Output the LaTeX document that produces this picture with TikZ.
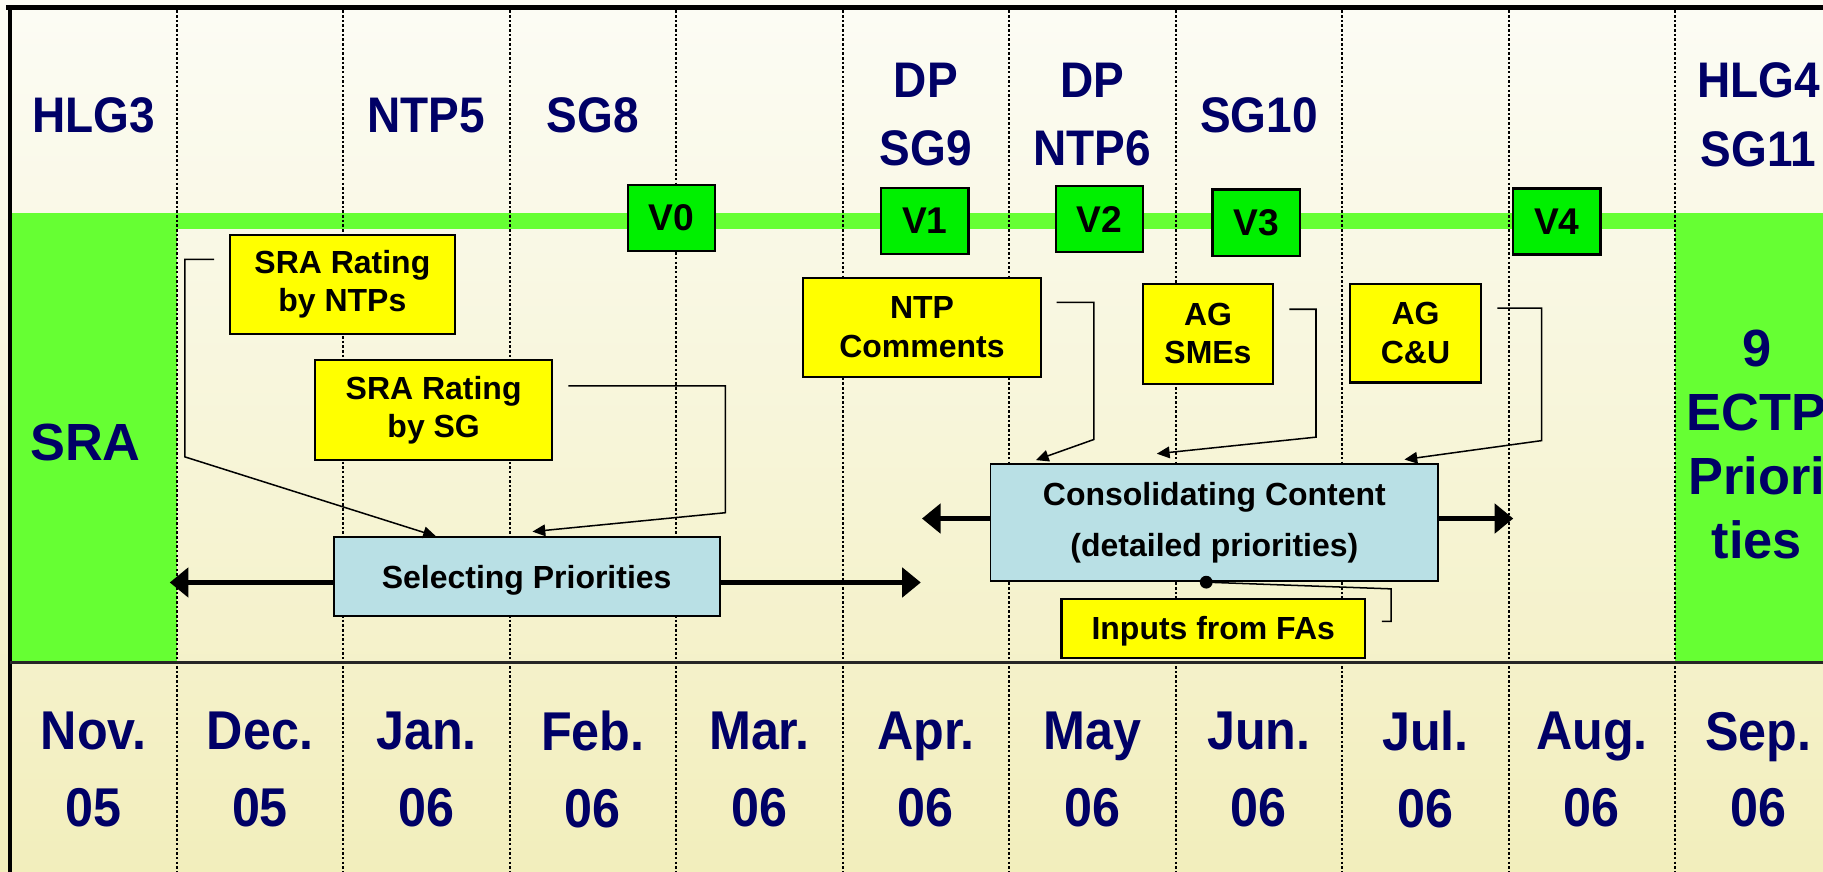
\documentclass[tikz,border=0pt]{standalone}
\usepackage{fontspec}
\setmainfont{Liberation Sans}
\newfontfamily\narrowsans{Liberation Sans}[FakeStretch=0.92]
\usetikzlibrary{arrows.meta}
\definecolor{labelNavy}{HTML}{000066}
\definecolor{bandGreen}{HTML}{66FF33}
\definecolor{versionGreen}{HTML}{00F000}
\definecolor{noteYellow}{HTML}{FFFF00}
\definecolor{taskBlue}{HTML}{B9E0E5}
\definecolor{bgTop}{HTML}{FCFCF5}
\definecolor{bgBottom}{HTML}{F2EEBC}

\begin{document}
\begin{tikzpicture}[x=1pt, y=1pt,
  navytext/.style={text=labelNavy, font=\narrowsans\bfseries\fontsize{43}{59}\selectfont, align=center, inner sep=0pt},
  monthtext/.style={text=labelNavy, font=\narrowsans\bfseries\fontsize{47}{66}\selectfont, align=center, inner sep=0pt},
  sidetext/.style={text=labelNavy, font=\bfseries\fontsize{45}{55}\selectfont, align=center, inner sep=0pt},
  notebox/.style={draw, line width=1.8pt, fill=noteYellow, align=center, inner sep=0pt, font=\bfseries\fontsize{27.5}{33}\selectfont},
  taskbox/.style={draw, line width=1.5pt, fill=taskBlue, align=center, inner sep=0pt, font=\bfseries\fontsize{27.5}{44}\selectfont},
  verbox/.style={draw, line width=2pt, fill=versionGreen, minimum width=75pt, minimum height=57pt, inner sep=0pt, font=\bfseries\fontsize{32}{32}\selectfont},
  feedline/.style={-{Triangle[length=11pt,width=10pt]}, line width=1.3pt},
  spanarrow/.style={-{Triangle[length=16pt,width=25pt]}, line width=5pt}]

  \useasboundingbox (0,0) rectangle (1568,750);
  \clip (0,0) rectangle (1568,750);
  \shade[top color=bgTop, bottom color=bgBottom] (0,0) rectangle (1568,750);

  % Green band and end columns
  \fill[bandGreen] (8,552.8) rectangle (1568,566.5);
  \fill[bandGreen] (8,180) rectangle (152,566.5);
  \fill[bandGreen] (1440.8,180) rectangle (1568,566.5);

  % Month separators
  \foreach \x in {0,...,9}
    \draw[line width=1.6pt, dash pattern=on 2.2pt off 1.8pt] ({152+143.2*\x},741) -- ({152+143.2*\x},0);

  % Frame
  \draw[line width=4pt] (5,743.5) -- (1568,743.5);
  \draw[line width=4pt] (8.5,745.5) -- (8.5,0);
  \draw[line width=2.5pt, black!85] (8.5,180) -- (1568,180);

  % Months
  \foreach \m/\yr [count=\i from 0] in {Nov./05, Dec./05, Jan./06, Feb./06, Mar./06, Apr./06, May/06, Jun./06, Jul./06, Aug./06, Sep./06}
    \node[monthtext] (m\i) at ({80.4+143.2*\i},88) {\m\\\yr};

  % Meetings
  \node[navytext] (hlg3) at (80.4,651) {HLG3};
  \node[navytext] (ntp5) at (366.8,651) {NTP5};
  \node[navytext] (sg8) at (510,651) {SG8};
  \node[navytext] (sg9) at (796.4,651.5) {DP\\SG9};
  \node[navytext] (ntp6) at (939.6,651.5) {DP\\NTP6};
  \node[navytext] (sg10) at (1082.8,651) {SG10};
  \node[navytext] (sg11) at (1512.4,651.5) {HLG4\\SG11};

  \node[sidetext] (sra) at (73.5,369.5) {SRA};
  \node[sidetext] (ectp) at (1511,367.5) {9\\ECTP\\Priori\\ties};

  % Versions
  \node[verbox] (v0) at (577.5,562.5) {V0};
  \node[verbox] (v1) at (795.5,560) {V1};
  \node[verbox] (v2) at (945.5,561.5) {V2};
  \node[verbox] (v3) at (1080.5,558.5) {V3};
  \node[verbox] (v4) at (1339,559.5) {V4};

  % Spanning arrows
  \coordinate (selL) at (146,249);
  \coordinate (selR) at (792,249);
  \coordinate (consL) at (793,304);
  \coordinate (consR) at (1301.6,304);

  % Inputs
  \node[notebox, minimum width=193pt, minimum height=85pt] (ntps) at (294.5,505.5) {SRA Rating\\by NTPs};
  \node[notebox, minimum width=204pt, minimum height=86pt] (sgr) at (373,397) {SRA Rating\\by SG};
  \node[notebox, minimum width=204pt, minimum height=85pt] (ntpc) at (793,468.5) {NTP\\Comments};
  \node[notebox, minimum width=112pt, minimum height=86pt] (smes) at (1039,463) {AG\\SMEs};
  \node[notebox, minimum width=113pt, minimum height=85pt] (cu) at (1217.5,463.5) {AG\\C\&U};
  \node[notebox, minimum width=261pt, minimum height=51pt, text depth=0pt] (fas) at (1043.5,209.5) {Inputs from FAs};

  % Tasks
  \node[taskbox, minimum width=332pt, minimum height=68pt, text depth=0pt] (sel) at (453,254) {Selecting Priorities};
  \node[taskbox, minimum width=385pt, minimum height=101pt] (cons) at (1044.5,300.5) {Consolidating Content\\(detailed priorities)};

  \draw[spanarrow] (sel.west |- selL) -- (selL);
  \draw[spanarrow] (sel.east |- selR) -- (selR);
  \draw[spanarrow] (cons.west |- consL) -- (consL);
  \draw[spanarrow] (cons.east |- consR) -- (consR);

  % SRA ratings into selection
  \draw[feedline] ([xshift=-13pt,yshift=21.5pt]ntps.west) -- ++(-25pt,0) -- ++(0,-170pt) -- ([xshift=-78pt]sel.north);
  \draw[feedline] ([xshift=13pt,yshift=21pt]sgr.east) -- ++(135pt,0) -- ++(0,-109pt) -- ([xshift=5pt,yshift=4pt]sel.north);

  % Comments into consolidation
  \draw[feedline] ([xshift=13pt,yshift=21.5pt]ntpc.east) -- ++(32pt,0) -- ++(0,-118pt) -- ([xshift=-153.5pt,yshift=2.5pt]cons.north);
  \draw[feedline] ([xshift=13pt,yshift=21pt]smes.east) -- ++(23pt,0) -- ++(0,-110pt) -- ([xshift=-49.5pt,yshift=8pt]cons.north);
  \draw[feedline] ([xshift=13pt,yshift=21.5pt]cu.east) -- ++(38pt,0) -- ++(0,-114pt) -- ([xshift=163.5pt,yshift=3pt]cons.north);

  % FA inputs
  \coordinate (fadot) at ([xshift=-7pt]cons.south);
  \draw[line width=1.3pt] ([xshift=13.6pt,yshift=6pt]fas.east) -- ++(8pt,0) -- ++(0,28pt) -- (fadot);
  \fill (fadot) circle (5.5pt);
\end{tikzpicture}
\end{document}
